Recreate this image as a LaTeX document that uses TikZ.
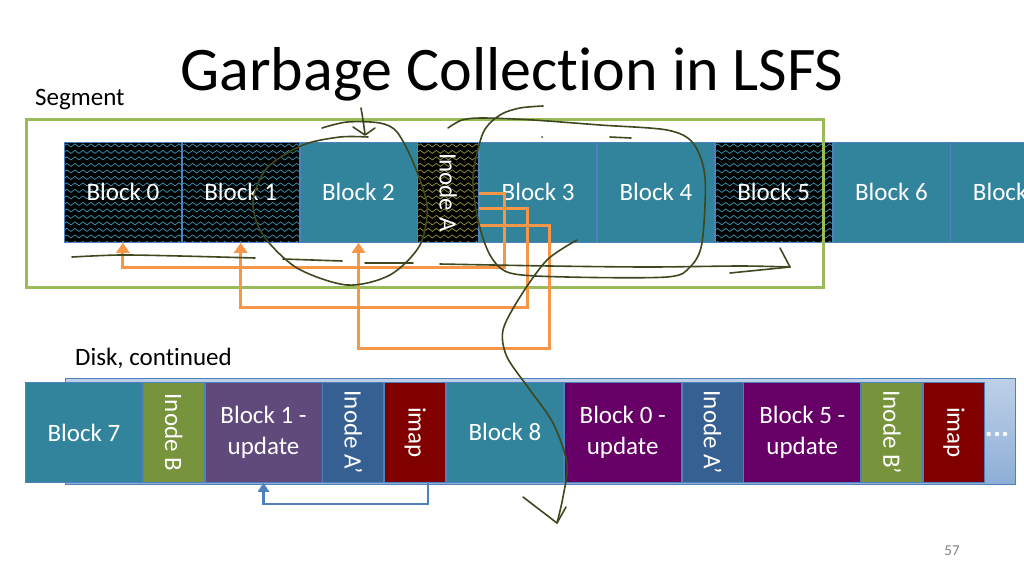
\documentclass[tikz,border=0pt]{standalone}
\usepackage{fontspec}
\setmainfont{Carlito}[Ligatures={NoCommon,NoRare}]
\usetikzlibrary{arrows.meta,positioning,calc,decorations.pathmorphing}

\definecolor{blkteal}{RGB}{49,132,155}
\definecolor{edgeblue}{RGB}{79,129,189}
\definecolor{inodegreen}{RGB}{119,147,60}
\definecolor{updpurple}{RGB}{96,73,123}
\definecolor{updmagenta}{RGB}{102,0,102}
\definecolor{inodeblue}{RGB}{55,96,146}
\definecolor{imapred}{RGB}{128,0,0}
\definecolor{orng}{RGB}{247,150,70}
\definecolor{seggreen}{RGB}{155,187,89}
\definecolor{pen}{RGB}{62,72,30}
\definecolor{waveteal}{RGB}{60,150,180}
\definecolor{waveolive}{RGB}{150,150,60}

\newcommand{\vlab}[1]{\rotatebox{-90}{#1}}

\tikzset{
  blk/.style={draw=edgeblue, line width=0.8pt, fill=blkteal, text=white,
    minimum width=117pt, minimum height=100pt, inner sep=0pt, align=center,
    font=\fontsize{25}{31}\selectfont},
  thin/.style={blk, minimum width=61pt},
  wavy/.style={fill=black, path picture={
    \foreach \k in {0,...,15}
      \draw[#1, line width=0.7pt, decorate,
            decoration={snake, amplitude=1.5pt, segment length=8pt}]
        ([yshift=-\k*6.5pt-3pt]path picture bounding box.north west) -- ++(130,0);
  }},
  lbl/.style={font=\fontsize{25}{30}\selectfont, inner sep=0pt},
  orngarrow/.style={draw=orng, line width=3pt, -{Triangle[length=10pt,width=13pt]}},
  bluearrow/.style={draw=edgeblue, line width=2.5pt, -{Triangle[length=9pt,width=11pt]}},
  handpen/.style={draw=pen, line width=1.6pt, line cap=round, line join=round},
}

\begin{document}
\begin{tikzpicture}[x=1pt, y=-1pt, node distance=0pt]
  \useasboundingbox (0,0) rectangle (1024,576);

  % title and labels
  \node[font=\fontsize{62}{70}\selectfont] (title) at (512,74) {Garbage Collection in LSFS};
  \node[lbl, anchor=west] (seglabel) at (35,100) {Segment};
  \node[lbl, anchor=west] (disklabel) at (75,358) {Disk, continued};
  \node[font=\fontsize{15}{18}\selectfont, text=gray] (pagenum) at (952,551) {57};

  % segment row
  \node[blk, wavy=waveteal, anchor=north west] (b0) at (64,142) {Block 0};
  \node[blk, wavy=waveteal, right=of b0] (b1) {Block 1};
  \node[blk, right=of b1] (b2) {Block 2};
  \node[thin, wavy=waveolive, right=of b2] (inA) {\vlab{Inode A}};
  \node[blk, right=of inA] (b3) {Block 3};
  \node[blk, right=of b3] (b4) {Block 4};
  \node[blk, wavy=waveteal, right=of b4] (b5) {Block 5};
  \node[blk, right=of b5] (b6) {Block 6};
  \node[blk, right=of b6] (b7) {Block 7};

  \node[draw=seggreen, line width=3pt, minimum width=797pt, minimum height=168pt,
        anchor=north west, inner sep=0pt] (segbox) at (25,118) {};

  % pointers from inode A
  \draw[orngarrow] ([yshift=-1pt]inA.east) -| ++(25,74) -| (b0.south);
  \draw[orngarrow] ([yshift=-16pt]inA.east) -| ++(48,99) -| (b1.south);
  \draw[orngarrow] ([yshift=-33pt]inA.east) -| ++(70,123) -| (b2.south);

  % disk, continued
  \node[draw=edgeblue, line width=0.8pt, top color={rgb,255:red,190;green,208;blue,232},
        bottom color={rgb,255:red,141;green,174;blue,214}, minimum width=950pt,
        minimum height=106pt, anchor=north west, inner sep=0pt] (diskbar) at (65,378) {};
  \node[blk, anchor=north west] (d7) at (25,382) {Block 7};
  \node[thin, fill=inodegreen, right=of d7] (inB) {\vlab{Inode B}};
  \node[blk, fill=updpurple, right=of inB] (up1) {Block 1 -\\update};
  \node[thin, fill=inodeblue, right=of up1] (inA1) {\vlab{Inode A'}};
  \node[thin, fill=imapred, right=of inA1] (imap1) {\vlab{imap}};
  \node[blk, right=of imap1] (d8) {Block 8};
  \node[blk, fill=updmagenta, right=of d8] (up0) {Block 0 -\\update};
  \node[thin, fill=inodeblue, right=of up0] (inA2) {\vlab{Inode A'}};
  \node[blk, fill=updmagenta, right=of inA2] (up5) {Block 5 -\\update};
  \node[thin, fill=inodegreen, right=of up5] (inB1) {\vlab{Inode B'}};
  \node[thin, fill=imapred, right=of inB1] (imap2) {\vlab{imap}};
  \node[font=\fontsize{30}{30}\bfseries, text=white] (more) at (997,434) {...};

  \draw[bluearrow] ([xshift=13pt]imap1.south) -- ++(0,21) -| (up1.south);

  % hand-drawn marks
  \draw[handpen] plot[smooth] coordinates {(361,108) (363,120) (365,134)};
  \draw[handpen] (353,127) -- (365,135) -- (375,128);
  \draw[handpen] plot[smooth] coordinates {(322,128) (347,122) (380,123) (397,132)
    (413,162) (427,205) (420,245) (390,275) (347,285) (297,268) (263,235) (253,202)
    (267,168) (303,145) (340,137) (368,137)};
  \draw[handpen] plot[smooth] coordinates {(448,128) (462,120) (483,118) (533,120)
    (600,125) (667,130) (693,143) (705,177) (702,243) (690,267) (667,277) (567,277)
    (510,273) (490,255) (478,220) (473,177) (483,133) (500,115) (520,108) (543,106)};
  \draw[handpen] (610,137) -- (631,138);
  \fill[pen] (542,137) circle (1pt);
  \draw[handpen] plot[smooth] coordinates {(577,240) (547,260) (520,297) (503,330)
    (507,357) (530,390) (553,423) (567,463) (563,497) (557,523)};
  \draw[handpen] (523,497) -- (557,523) -- (566,507);
  \draw[handpen] plot[smooth] coordinates {(72,257) (120,255) (180,256) (255,258)};
  \draw[handpen] (283,259) -- (342,261);
  \draw[handpen] (365,263) -- (413,263);
  \draw[handpen] plot[smooth] coordinates {(440,264) (550,266) (650,267) (740,266) (790,267)};
  \draw[handpen] (780,248) -- (790,267) -- (730,273);
\end{tikzpicture}
\end{document}
